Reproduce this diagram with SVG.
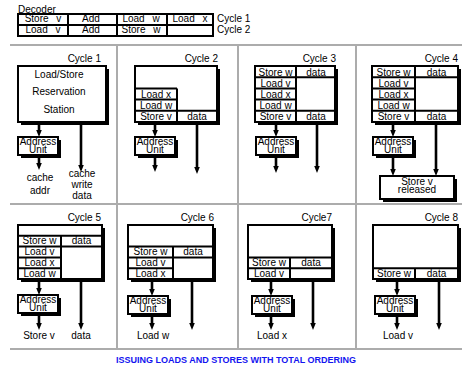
<svg xmlns="http://www.w3.org/2000/svg" width="472" height="371" viewBox="0 0 472 371">
<defs>
<style>
text{font-family:"Liberation Sans",Arial,sans-serif;font-size:10px;fill:#000}
.m{text-anchor:middle}
.e{text-anchor:end}
.sh{fill:#000}
.bx{fill:#fff;stroke:#000;stroke-width:2}
.ln{stroke:#000;stroke-width:2;fill:none}
.gr{stroke:#acacac;stroke-width:2;fill:none}
.ar{stroke:#000;stroke-width:2.6;fill:none;marker-end:url(#ah)}
.ttl{font-size:9px;font-weight:bold;fill:#1414f0;text-anchor:middle}
.dec{word-spacing:5px}
</style>
<marker id="ah" viewBox="0 -3 7 6" refX="0" refY="0" markerWidth="7" markerHeight="6" markerUnits="userSpaceOnUse" orient="auto">
<path d="M0,-2.8 L7,0 L0,2.8 z" fill="#000"/>
</marker>
</defs>
<rect width="472" height="371" fill="#fff"/>

<g id="grid">
<line class="gr" x1="10" y1="45" x2="462" y2="45"/>
<line class="gr" x1="10" y1="204" x2="462" y2="204"/>
<line class="gr" x1="10" y1="349" x2="462" y2="349"/>
<line class="gr" x1="117" y1="45" x2="117" y2="349"/>
<line class="gr" x1="238" y1="45" x2="238" y2="349"/>
<line class="gr" x1="356" y1="45" x2="356" y2="349"/>
</g>

<g id="decoder">
<text x="18" y="12.5">Decoder</text>
<rect class="bx" x="18" y="14" width="195" height="22"/>
<line class="ln" x1="18" y1="25" x2="213" y2="25"/>
<line class="ln" x1="68" y1="14" x2="68" y2="36"/>
<line class="ln" x1="117" y1="14" x2="117" y2="36"/>
<line class="ln" x1="167" y1="14" x2="167" y2="36"/>
<text class="m dec" x="43" y="22">Store v</text>
<text class="m" x="91" y="22">Add</text>
<text class="m dec" x="141" y="22">Load w</text>
<text class="m dec" x="190" y="22">Load x</text>
<text class="m dec" x="43" y="33">Load v</text>
<text class="m" x="91" y="33">Add</text>
<text class="m dec" x="141" y="33">Store w</text>
<text x="217" y="22">Cycle 1</text>
<text x="217" y="33">Cycle 2</text>
</g>

<g id="cycle1">
<text class="e" x="101" y="61.5">Cycle 1</text>
<rect class="sh" x="21" y="69" width="88" height="56"/>
<rect class="bx" x="18" y="66" width="88" height="56"/>
<text class="m" x="59" y="77.5">Load/Store</text>
<text class="m" x="59" y="95">Reservation</text>
<text class="m" x="59" y="112.5">Station</text>
</g>
<g id="au1">
<rect class="sh" x="21" y="140" width="40" height="18"/>
<rect class="bx" x="18" y="137" width="40" height="18"/>
<text class="m" x="38" y="145">Address</text>
<text class="m" x="38" y="152.5">Unit</text>
</g>
<g id="cycle1-labels">
<text class="m" x="40" y="181">cache</text>
<text class="m" x="40" y="194">addr</text>
<text class="m" x="82" y="176.5">cache</text>
<text class="m" x="82" y="187.5">write</text>
<text class="m" x="82" y="198.5">data</text>
</g>

<g id="cycle2">
<text class="e" x="218" y="61.5">Cycle 2</text>
<rect class="sh" x="138" y="69" width="82" height="56"/>
<rect class="bx" x="135" y="66" width="82" height="56"/>
<line class="ln" x1="135" y1="88.4" x2="177" y2="88.4"/>
<line class="ln" x1="135" y1="99.6" x2="177" y2="99.6"/>
<line class="ln" x1="135" y1="110.8" x2="217" y2="110.8"/>
<line class="ln" x1="177" y1="88.4" x2="177" y2="122"/>
<text class="m" x="156" y="97.5">Load x</text>
<text class="m" x="156" y="108.7">Load w</text>
<text class="m" x="156" y="120">Store v</text>
<text class="m" x="197" y="120">data</text>
</g>
<g id="au2">
<rect class="sh" x="138" y="140" width="40" height="18"/>
<rect class="bx" x="135" y="137" width="40" height="18"/>
<text class="m" x="155" y="145">Address</text>
<text class="m" x="155" y="152.5">Unit</text>
</g>

<g id="cycle3">
<text class="e" x="336" y="61.5">Cycle 3</text>
<rect class="sh" x="258" y="69" width="80" height="56"/>
<rect class="bx" x="255" y="66" width="80" height="56"/>
<line class="ln" x1="255" y1="77.2" x2="335" y2="77.2"/>
<line class="ln" x1="255" y1="88.4" x2="296" y2="88.4"/>
<line class="ln" x1="255" y1="99.6" x2="296" y2="99.6"/>
<line class="ln" x1="255" y1="110.8" x2="335" y2="110.8"/>
<line class="ln" x1="296" y1="66" x2="296" y2="122"/>
<text class="m" x="275.5" y="75.5">Store w</text>
<text class="m" x="316" y="75.5">data</text>
<text class="m" x="275.5" y="86.5">Load v</text>
<text class="m" x="275.5" y="97.7">Load x</text>
<text class="m" x="275.5" y="108.9">Load w</text>
<text class="m" x="275.5" y="120">Store v</text>
<text class="m" x="316" y="120">data</text>
</g>
<g id="au3">
<rect class="sh" x="259" y="140" width="40" height="18"/>
<rect class="bx" x="256" y="137" width="40" height="18"/>
<text class="m" x="276" y="145">Address</text>
<text class="m" x="276" y="152.5">Unit</text>
</g>

<g id="cycle4">
<text class="e" x="458" y="61.5">Cycle 4</text>
<rect class="sh" x="375" y="69" width="86" height="56"/>
<rect class="bx" x="372" y="66" width="86" height="56"/>
<line class="ln" x1="372" y1="77.2" x2="458" y2="77.2"/>
<line class="ln" x1="372" y1="88.4" x2="415" y2="88.4"/>
<line class="ln" x1="372" y1="99.6" x2="415" y2="99.6"/>
<line class="ln" x1="372" y1="110.8" x2="458" y2="110.8"/>
<line class="ln" x1="415" y1="66" x2="415" y2="122"/>
<text class="m" x="393.5" y="75.5">Store w</text>
<text class="m" x="436.5" y="75.5">data</text>
<text class="m" x="393.5" y="86.5">Load v</text>
<text class="m" x="393.5" y="97.7">Load x</text>
<text class="m" x="393.5" y="108.9">Load w</text>
<text class="m" x="393.5" y="120">Store v</text>
<text class="m" x="436.5" y="120">data</text>
</g>
<g id="au4">
<rect class="sh" x="376" y="140" width="40" height="18"/>
<rect class="bx" x="373" y="137" width="40" height="18"/>
<text class="m" x="393" y="145">Address</text>
<text class="m" x="393" y="152.5">Unit</text>
</g>
<g id="released">
<rect class="sh" x="383" y="179" width="74" height="23"/>
<rect class="bx" x="380" y="176" width="74" height="23"/>
<text class="m" x="417" y="185">Store v</text>
<text class="m" x="417" y="193">released</text>
</g>

<g id="cycle5">
<text class="e" x="101" y="220.5">Cycle 5</text>
<rect class="sh" x="21" y="228" width="84" height="54"/>
<rect class="bx" x="18" y="225" width="84" height="54"/>
<line class="ln" x1="18" y1="235.8" x2="102" y2="235.8"/>
<line class="ln" x1="18" y1="246.6" x2="102" y2="246.6"/>
<line class="ln" x1="18" y1="257.4" x2="61" y2="257.4"/>
<line class="ln" x1="18" y1="268.2" x2="61" y2="268.2"/>
<line class="ln" x1="61" y1="235.8" x2="61" y2="279"/>
<text class="m" x="39.5" y="244.3">Store w</text>
<text class="m" x="81.5" y="244.3">data</text>
<text class="m" x="39.5" y="255.1">Load v</text>
<text class="m" x="39.5" y="265.9">Load x</text>
<text class="m" x="39.5" y="276.7">Load w</text>
</g>
<g id="au5">
<rect class="sh" x="21" y="298" width="40" height="18"/>
<rect class="bx" x="18" y="295" width="40" height="18"/>
<text class="m" x="38" y="303">Address</text>
<text class="m" x="38" y="310.5">Unit</text>
</g>
<g id="cycle5-labels">
<text class="m" x="39" y="338.5">Store v</text>
<text class="m" x="81" y="338.5">data</text>
</g>

<g id="cycle6">
<text class="e" x="214" y="220.5">Cycle 6</text>
<rect class="sh" x="131" y="228" width="85" height="54"/>
<rect class="bx" x="128" y="225" width="85" height="54"/>
<line class="ln" x1="128" y1="246.6" x2="213" y2="246.6"/>
<line class="ln" x1="128" y1="257.4" x2="213" y2="257.4"/>
<line class="ln" x1="128" y1="268.2" x2="173" y2="268.2"/>
<line class="ln" x1="173" y1="246.6" x2="173" y2="279"/>
<text class="m" x="150.5" y="255.1">Store w</text>
<text class="m" x="193" y="255.1">data</text>
<text class="m" x="150.5" y="265.9">Load v</text>
<text class="m" x="150.5" y="276.7">Load x</text>
</g>
<g id="au6">
<rect class="sh" x="131" y="299" width="40" height="18"/>
<rect class="bx" x="128" y="296" width="40" height="18"/>
<text class="m" x="148" y="304">Address</text>
<text class="m" x="148" y="311.5">Unit</text>
</g>
<text class="m" x="153" y="338.5">Load w</text>

<g id="cycle7">
<text class="e" x="332" y="220.5">Cycle7</text>
<rect class="sh" x="251" y="228" width="84" height="54"/>
<rect class="bx" x="248" y="225" width="84" height="54"/>
<line class="ln" x1="248" y1="257.4" x2="332" y2="257.4"/>
<line class="ln" x1="248" y1="268.2" x2="332" y2="268.2"/>
<line class="ln" x1="290" y1="257.4" x2="290" y2="279"/>
<text class="m" x="269" y="265.9">Store w</text>
<text class="m" x="311" y="265.9">data</text>
<text class="m" x="269" y="276.7">Load v</text>
</g>
<g id="au7">
<rect class="sh" x="255" y="299" width="40" height="18"/>
<rect class="bx" x="252" y="296" width="40" height="18"/>
<text class="m" x="272" y="304">Address</text>
<text class="m" x="272" y="311.5">Unit</text>
</g>
<text class="m" x="272" y="338.5">Load x</text>

<g id="cycle8">
<text class="e" x="458" y="220.5">Cycle 8</text>
<rect class="sh" x="376" y="228" width="85" height="54"/>
<rect class="bx" x="373" y="225" width="85" height="54"/>
<line class="ln" x1="373" y1="268.2" x2="458" y2="268.2"/>
<line class="ln" x1="415" y1="268.2" x2="415" y2="279"/>
<text class="m" x="394" y="276.7">Store w</text>
<text class="m" x="436.5" y="276.7">data</text>
</g>
<g id="au8">
<rect class="sh" x="378" y="299" width="40" height="18"/>
<rect class="bx" x="375" y="296" width="40" height="18"/>
<text class="m" x="395" y="304">Address</text>
<text class="m" x="395" y="311.5">Unit</text>
</g>
<text class="m" x="398" y="338.5">Load v</text>

<g id="connectors">
<line class="ar" x1="39" y1="123" x2="39" y2="130"/>
<line class="ar" x1="39" y1="158" x2="39" y2="163"/>
<line class="ar" x1="81" y1="123" x2="81" y2="165"/>
<line class="ar" x1="155" y1="123" x2="155" y2="130"/>
<line class="ar" x1="155" y1="158" x2="155" y2="165"/>
<line class="ar" x1="197" y1="123" x2="197" y2="167"/>
<line class="ar" x1="276" y1="123" x2="276" y2="130"/>
<line class="ar" x1="276" y1="158" x2="276" y2="166"/>
<line class="ar" x1="317" y1="123" x2="317" y2="166"/>
<line class="ar" x1="393" y1="123" x2="393" y2="130"/>
<line class="ar" x1="393" y1="158" x2="393" y2="169"/>
<line class="ar" x1="436" y1="123" x2="436" y2="169"/>
<line class="ar" x1="39" y1="280" x2="39" y2="288"/>
<line class="ar" x1="39" y1="316" x2="39" y2="323"/>
<line class="ar" x1="81" y1="280" x2="81" y2="323"/>
<line class="ar" x1="152" y1="280" x2="152" y2="289"/>
<line class="ar" x1="152" y1="317" x2="152" y2="323"/>
<line class="ar" x1="192" y1="280" x2="192" y2="323"/>
<line class="ar" x1="271" y1="280" x2="271" y2="289"/>
<line class="ar" x1="271" y1="317" x2="271" y2="323"/>
<line class="ar" x1="313" y1="280" x2="313" y2="323"/>
<line class="ar" x1="397" y1="280" x2="397" y2="289"/>
<line class="ar" x1="397" y1="317" x2="397" y2="323"/>
<line class="ar" x1="439" y1="280" x2="439" y2="323"/>
</g>

<text class="ttl" x="236" y="363">ISSUING LOADS AND STORES WITH TOTAL ORDERING</text>
</svg>
